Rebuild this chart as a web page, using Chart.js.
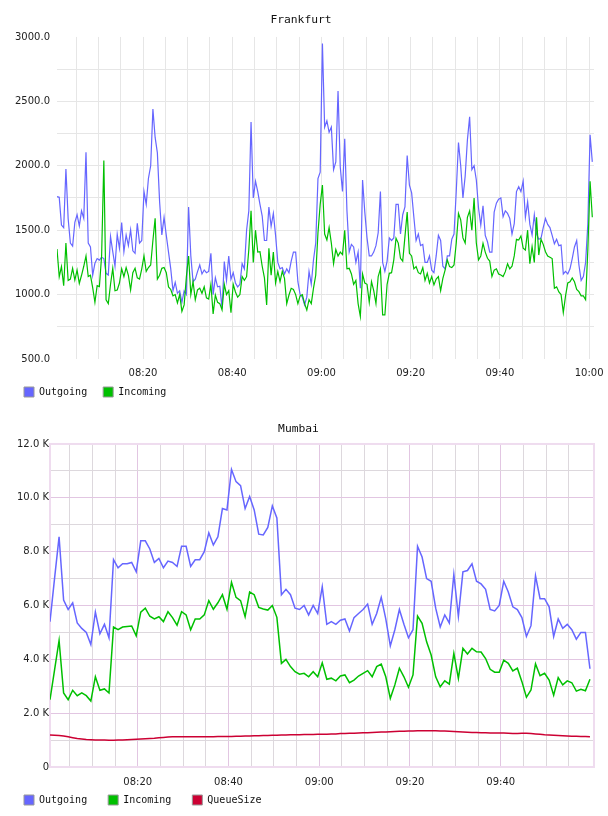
<!DOCTYPE html>
<html>
<head>
<meta charset="utf-8">
<script src="https://cdn.jsdelivr.net/npm/chart.js@4.4.0/dist/chart.umd.min.js"></script>
<style>
    body { margin: 0; background: #ffffff; }
    .chart-box { position: relative; width: 608px; height: 408px; }
</style>
</head>
<body>
<div class="chart-box"><canvas id="frankfurt"></canvas></div>
<div class="chart-box"><canvas id="mumbai"></canvas></div>
<script>
'use strict';

// Frankfurt samples: every 30 s, minutes after 08:00
const frankfurtStart = 0.72;
const frankfurtStep = 0.5;
const frankfurtOutgoing = [
    1760, 1755, 1540, 1520, 1975, 1590, 1400, 1377, 1560, 1620,
    1533, 1650, 1592, 2104, 1400, 1370, 1150, 1243, 1280, 1268,
    1290, 1280, 1165, 1152, 1450, 1333, 1220, 1468, 1359, 1560,
    1333, 1463, 1380, 1502, 1340, 1320, 1553, 1400, 1420, 1800,
    1700, 1903, 2000, 2440, 2220, 2100, 1720, 1463, 1600, 1460,
    1330, 1200, 1030, 1095, 1010, 1030, 940, 1028, 1000, 1680,
    1300, 1100, 1120, 1178, 1230, 1160, 1191, 1170, 1180, 1320,
    1000, 1131, 1060, 1065, 893, 1256, 1110, 1300, 1120, 1170,
    1090, 1060, 1080, 1240, 1200, 1500, 1650, 2340, 1750, 1880,
    1799, 1700, 1610, 1420, 1420, 1680, 1530, 1630, 1460, 1250,
    1200, 1210, 1160, 1200, 1170, 1260, 1330, 1330, 1100, 1000,
    980, 920, 980, 1180, 1080, 1270, 1400, 1900, 1950, 2950,
    2300, 2350, 2260, 2300, 1970, 2030, 2580, 1990, 1800, 2210,
    1650, 1330, 1390, 1370, 1250, 1330, 1050, 1890, 1640, 1440,
    1300, 1300, 1330, 1380, 1480, 1800, 1250, 1180, 1260, 1440,
    1420, 1440, 1700, 1700, 1470, 1620, 1680, 2080, 1850, 1790,
    1600, 1420, 1470, 1380, 1390, 1250, 1250, 1300, 1190, 1170,
    1300, 1460, 1420, 1220, 1200, 1300, 1300, 1430, 1470, 1800,
    2180, 2000, 1750, 1920, 2200, 2380, 1970, 2000, 1890, 1670,
    1540, 1690, 1460, 1410, 1330, 1330, 1640, 1710, 1740, 1750,
    1605, 1650, 1630, 1592, 1470, 1550, 1800, 1838, 1800, 1880,
    1600, 1720, 1545, 1463, 1620, 1470, 1430, 1437, 1520, 1590,
    1545, 1520, 1460, 1395, 1430, 1380, 1385, 1160, 1180, 1160,
    1200, 1280, 1370, 1420, 1230, 1110, 1140, 1250, 1550, 2240,
    2030
];
const frankfurtIncoming = [
    1354, 1139, 1217, 1069, 1400, 1110, 1120, 1204, 1113, 1190,
    1087, 1150, 1220, 1300, 1140, 1150, 1054, 940, 1069, 1062,
    1300, 2040, 960, 930, 1080, 1204, 1030, 1036, 1090, 1200,
    1139, 1210, 1150, 1036, 1170, 1204, 1130, 1120, 1200, 1300,
    1180, 1210, 1230, 1420, 1592, 1120, 1150, 1204, 1210, 1170,
    1060, 1040, 990, 1000, 935, 1000, 870, 920, 1139, 1300,
    1000, 1100, 960, 1036, 1050, 1010, 1060, 975, 966, 1080,
    850, 997, 940, 930, 881, 1080, 1000, 1030, 860, 1080,
    1020, 980, 1000, 1140, 1110, 1139, 1350, 1650, 1250, 1500,
    1330, 1333, 1220, 1130, 920, 1359, 1150, 1330, 1090, 1180,
    1100, 1180, 1126, 930, 997, 1049, 1040, 1000, 930, 990,
    1000, 930, 880, 960, 930, 1050, 1150, 1480, 1700, 1850,
    1470, 1424, 1520, 1400, 1240, 1350, 1300, 1330, 1310, 1500,
    1200, 1204, 1160, 1080, 1110, 930, 830, 1160, 1090, 1080,
    940, 1100, 1030, 930, 1140, 1200, 842, 842, 1080, 1165,
    1170, 1270, 1437, 1400, 1282, 1260, 1450, 1640, 1320, 1300,
    1200, 1217, 1170, 1160, 1210, 1110, 1165, 1090, 1140, 1075,
    1120, 1140, 1030, 1126, 1190, 1269, 1217, 1210, 1230, 1400,
    1630, 1580, 1440, 1400, 1600, 1650, 1500, 1750, 1400, 1270,
    1300, 1398, 1330, 1282, 1260, 1140, 1190, 1200, 1160, 1152,
    1140, 1178, 1240, 1200, 1220, 1300, 1430, 1424, 1455, 1360,
    1346, 1500, 1240, 1372, 1250, 1600, 1307, 1430, 1390, 1333,
    1300, 1290, 1280, 1050, 1060, 1020, 1000, 860, 990, 1090,
    1100, 1130, 1100, 1040, 1023, 990, 990, 960, 1350, 1880,
    1600
];

// Mumbai samples: every minute, minutes after 08:00
const mumbaiStart = 0.67;
const mumbaiStep = 1;
const mumbaiOutgoing = [
    5400, 7000, 8550, 6200, 5850, 6100, 5350, 5150, 5000, 4550,
    5750, 4950, 5300, 4800, 7700, 7400, 7550, 7550, 7600, 7250,
    8400, 8400, 8100, 7600, 7750, 7400, 7650, 7600, 7450, 8200,
    8200, 7450, 7700, 7700, 8000, 8700, 8250, 8550, 9600, 9550,
    11050, 10600, 10450, 9600, 10050, 9550, 8650, 8620, 8900, 9700,
    9250, 6400, 6600, 6400, 5900, 5850, 6000, 5650, 6000, 5700,
    6700, 5300, 5400, 5300, 5450, 5500, 5050, 5550, 5700, 5850,
    6050, 5300, 5700, 6300, 5500, 4500, 5100, 5850, 5300, 4800,
    5100, 8200, 7800, 7000, 6900, 5900, 5200, 5650, 5350, 7150,
    5600, 7250, 7300, 7550, 6900, 6800, 6600, 5850, 5800, 6000,
    6900, 6500, 5950, 5850, 5550, 4850, 5250, 7100, 6250, 6250,
    5950, 4850, 5500, 5150, 5300, 5100, 4750, 5000, 5000, 3650
];
const mumbaiIncoming = [
    2500, 3600, 4700, 2750, 2500, 2850, 2650, 2750, 2650, 2450,
    3350, 2850, 2900, 2750, 5200, 5100, 5200, 5220, 5240, 4870,
    5750, 5900, 5600, 5500, 5580, 5400, 5770, 5550, 5270, 5770,
    5650, 5100, 5500, 5500, 5650, 6180, 5860, 6100, 6400, 5860,
    6860, 6300, 6180, 5580, 6500, 6400, 5930, 5870, 5830, 6000,
    5560, 3850, 4000, 3730, 3540, 3450, 3480, 3350, 3540, 3350,
    3870, 3260, 3300, 3200, 3380, 3420, 3130, 3230, 3380, 3480,
    3580, 3350, 3730, 3820, 3350, 2550, 3050, 3670, 3350, 2960,
    3420, 5610, 5340, 4650, 4160, 3350, 2980, 3200, 3080, 4220,
    3290, 4410, 4200, 4410, 4280, 4270, 4030, 3630, 3520, 3520,
    3970, 3850, 3570, 3670, 3170, 2590, 2860, 3830, 3390, 3480,
    3230, 2670, 3320, 3050, 3200, 3130, 2820, 2890, 2830, 3260
];
const mumbaiQueueSize = [
    1190, 1180, 1170, 1150, 1120, 1090, 1060, 1040, 1020, 1010,
    1000, 1000, 1000, 990, 990, 1000, 1000, 1010, 1020, 1030,
    1040, 1050, 1060, 1070, 1090, 1100, 1110, 1120, 1120, 1120,
    1120, 1120, 1120, 1120, 1120, 1120, 1120, 1130, 1130, 1130,
    1130, 1140, 1140, 1150, 1150, 1160, 1160, 1170, 1170, 1180,
    1180, 1190, 1190, 1200, 1200, 1200, 1210, 1210, 1210, 1220,
    1220, 1220, 1230, 1230, 1240, 1240, 1250, 1250, 1260, 1270,
    1270, 1280, 1290, 1300, 1300, 1310, 1320, 1330, 1330, 1340,
    1340, 1350, 1350, 1350, 1350, 1350, 1340, 1340, 1330, 1320,
    1310, 1300, 1290, 1280, 1280, 1270, 1270, 1260, 1260, 1260,
    1260, 1250, 1240, 1240, 1250, 1250, 1240, 1230, 1220, 1200,
    1190, 1180, 1170, 1160, 1150, 1140, 1140, 1130, 1130, 1120
];

// Time axis ticks (minutes after 08:00)
const gridMinutes = [5, 10, 15, 20, 25, 30, 35, 40, 45, 50, 55, 60, 65, 70, 75, 80, 85, 90, 95, 100, 105, 110, 115, 120];
const labelMinutes = [20, 40, 60, 80, 100, 120];
const labelTimes = ['08:20', '08:40', '09:00', '09:20', '09:40', '10:00'];

// Value axis ticks
const frankfurtValueTicks = [500, 750, 1000, 1250, 1500, 1750, 2000, 2250, 2500, 2750, 3000];
const mumbaiValueTicks = [0, 1000, 2000, 3000, 4000, 5000, 6000, 7000, 8000, 9000, 10000, 11000, 12000];

const outgoingColor = '#6666ff';
const incomingColor = '#00c000';
const queueColor = '#cc0033';
const tickFont = { family: 'DejaVu Sans', size: 10 };
const monoFont = 'DejaVu Sans Mono';

// Turn a value list into x/y points
function toPoints(values, start, step) {
    return values.map((v, i) => ({ x: start + i * step, y: v }));
}

// Label for a time tick
function timeLabel(value) {
    let idx = labelMinutes.indexOf(value);
    return idx >= 0 ? labelTimes[idx] : '';
}

// Legend boxes with grey rim
function legendLabels(chart) {
    let items = Chart.defaults.plugins.legend.labels.generateLabels(chart);
    items.forEach((item) => {
        item.fillStyle = chart.data.datasets[item.datasetIndex].borderColor;
        item.strokeStyle = '#999999';
        item.lineWidth = 1;
    });
    return items;
}

// Light frame round the plot area
const frameBorder = {
    id: 'frameBorder',
    beforeDatasetsDraw(chart, args, opts) {
        let a = chart.chartArea;
        let ctx = chart.ctx;
        ctx.save();
        ctx.strokeStyle = opts.color;
        ctx.lineWidth = opts.width;
        ctx.strokeRect(a.left, a.top, a.right - a.left, a.bottom - a.top);
        ctx.restore();
    }
};

function lineSet(label, values, start, step, color, width, order) {
    return {
        label: label,
        data: toPoints(values, start, step),
        borderColor: color,
        backgroundColor: color,
        borderWidth: width,
        pointRadius: 0,
        tension: 0,
        order: order
    };
}

// Frankfurt chart
new Chart(document.getElementById('frankfurt'), {
    type: 'line',
    data: {
        datasets: [
            lineSet('Outgoing', frankfurtOutgoing, frankfurtStart, frankfurtStep, outgoingColor, 1.2, 1),
            lineSet('Incoming', frankfurtIncoming, frankfurtStart, frankfurtStep, incomingColor, 1.2, 0)
        ]
    },
    options: {
        responsive: true,
        maintainAspectRatio: false,
        animation: false,
        layout: { padding: { left: 8, right: 14, top: 0, bottom: 1 } },
        plugins: {
            title: {
                display: true,
                text: 'Frankfurt',
                color: '#111111',
                font: { family: monoFont, size: 11.3, weight: 'normal' },
                padding: { top: 13.2, bottom: 10.2 }
            },
            legend: {
                position: 'bottom',
                align: 'start',
                labels: {
                    boxWidth: 10,
                    boxHeight: 10,
                    padding: 16,
                    color: '#111111',
                    font: { family: monoFont, size: 10 },
                    generateLabels: legendLabels,
                    sort: (a, b) => a.datasetIndex - b.datasetIndex
                }
            },
            tooltip: { enabled: false }
        },
        scales: {
            x: {
                type: 'linear',
                min: 0.72,
                max: 121.1,
                afterBuildTicks: (s) => { s.ticks = gridMinutes.map((v) => ({ value: v })); },
                afterFit: (s) => { s.height = 12; s.paddingLeft = 0; s.paddingRight = 0; },
                grid: { color: '#e6e6e6', drawTicks: false },
                border: { display: false },
                // mirror keeps the labels from being clipped to the thin axis box,
                // the negative padding puts them back below the plot
                ticks: { mirror: true, autoSkip: false, maxRotation: 0, padding: -20, color: '#222222', font: tickFont, callback: (v) => timeLabel(v) }
            },
            y: {
                min: 500,
                max: 3000,
                afterBuildTicks: (s) => { s.ticks = frankfurtValueTicks.map((v) => ({ value: v })); },
                afterFit: (s) => { s.width = 49; },
                grid: {
                    drawTicks: false,
                    color: (ctx) => (ctx.tick.value === 500 || ctx.tick.value === 3000) ? 'rgba(0,0,0,0)' : '#e6e6e6'
                },
                border: { display: false },
                ticks: { padding: 7, color: '#222222', font: tickFont, callback: (v) => v % 500 === 0 ? v.toFixed(1) : '' }
            }
        }
    }
});

// Mumbai chart
new Chart(document.getElementById('mumbai'), {
    type: 'line',
    data: {
        datasets: [
            lineSet('Outgoing', mumbaiOutgoing, mumbaiStart, mumbaiStep, outgoingColor, 1.5, 1),
            lineSet('Incoming', mumbaiIncoming, mumbaiStart, mumbaiStep, incomingColor, 1.5, 1),
            lineSet('QueueSize', mumbaiQueueSize, mumbaiStart, mumbaiStep, queueColor, 1.5, 0)
        ]
    },
    plugins: [frameBorder],
    options: {
        responsive: true,
        maintainAspectRatio: false,
        animation: false,
        layout: { padding: { left: 3, right: 14, top: 0, bottom: 1 } },
        plugins: {
            frameBorder: { color: '#efdcef', width: 2 },
            title: {
                display: true,
                text: 'Mumbai',
                color: '#111111',
                font: { family: monoFont, size: 11.3, weight: 'normal' },
                padding: { top: 14.2, bottom: 8.2 }
            },
            legend: {
                position: 'bottom',
                align: 'start',
                labels: {
                    boxWidth: 10,
                    boxHeight: 10,
                    padding: 21,
                    color: '#111111',
                    font: { family: monoFont, size: 10 },
                    generateLabels: legendLabels,
                    sort: (a, b) => a.datasetIndex - b.datasetIndex
                }
            },
            tooltip: { enabled: false }
        },
        scales: {
            x: {
                type: 'linear',
                min: 0.67,
                max: 120.56,
                afterBuildTicks: (s) => { s.ticks = gridMinutes.filter((v) => v < 120).map((v) => ({ value: v })); },
                afterFit: (s) => { s.height = 7; s.paddingLeft = 0; s.paddingRight = 0; },
                grid: {
                    drawTicks: false,
                    color: (ctx) => ctx.tick.value % 20 === 0 ? '#e2c6e2' : '#ddd8dd'
                },
                border: { display: false },
                ticks: { mirror: true, autoSkip: false, maxRotation: 0, padding: -21, color: '#222222', font: tickFont, callback: (v) => timeLabel(v) }
            },
            y: {
                min: 0,
                max: 12000,
                afterBuildTicks: (s) => { s.ticks = mumbaiValueTicks.map((v) => ({ value: v })); },
                afterFit: (s) => { s.width = 47; },
                grid: {
                    drawTicks: false,
                    color: (ctx) => {
                        let v = ctx.tick.value;
                        if (v === 0 || v === 12000) return 'rgba(0,0,0,0)';
                        return v % 2000 === 0 ? '#e2c6e2' : '#ddd8dd';
                    }
                },
                border: { display: false },
                ticks: {
                    padding: 1,
                    color: '#222222',
                    font: tickFont,
                    callback: (v) => v % 2000 !== 0 ? '' : (v === 0 ? '0' : (v / 1000).toFixed(1) + ' K')
                }
            }
        }
    }
});
</script>
</body>
</html>
